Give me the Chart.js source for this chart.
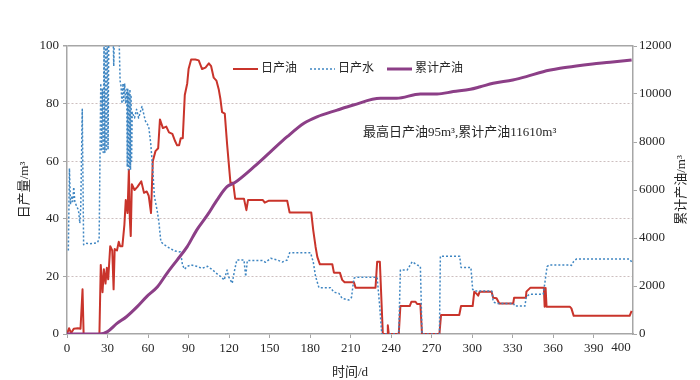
<!DOCTYPE html>
<html lang="zh">
<head>
    <meta charset="UTF-8">
    <title>日产量与累计产油</title>
    <style>
        html, body {
            margin: 0;
            padding: 0;
            background: #ffffff;
        }

        #wrap {
            width: 700px;
            height: 380px;
        }
    </style>
</head>
<body>
    <div id="wrap"><canvas id="prod-chart" width="700" height="380"></canvas></div>

    <script src="https://cdn.jsdelivr.net/npm/chart.js"></script>
    <script>
        // 日产油 (m3/d)
        const oilDay = [0, 1.5, 3, 5, 8, 10, 11.5, 12.3, 24, 25, 26.3, 27.3, 28.5, 29.5, 30.5, 32, 33.5, 34.5, 35.3, 37,
            38.3, 39.3, 41, 42.5, 43.5, 44.8, 45.8, 46.5, 47.2, 48, 50, 52, 55, 57, 59, 60.5, 62.2, 63.5, 65.5, 67.5,
            68.8, 71, 73.5, 75.5, 78, 80, 81.5, 83, 84.2, 85.7, 87.2, 89, 90, 91.9, 95, 97.5, 100, 102.5, 105, 106.7,
            108.6, 110.6, 112.3, 113.6, 114.8, 116.8, 118.5, 121, 123, 124.5, 131, 132.8, 134, 145, 146.4, 149.5, 163, 164.8, 180.8, 182.3,
            184, 185.3, 187.2, 196.4, 197.6, 202, 203.7, 205.5, 212.4, 213.6, 228.4, 229.6, 231.6, 233.8, 237, 237.5, 238.2, 245.6, 246.8, 253.7,
            255, 258, 259.2, 261.6, 262.8, 275.7, 276.9, 290.4, 291.7, 300.3, 301.5, 303, 304.4, 305.5, 314.3, 315.5, 318, 320, 330.3, 331,
            339.7, 340.1, 343.1, 353, 353.6, 354.3, 355, 372.2, 373.4, 375.1, 377, 416.5, 418];
        const oilRate = [0, 2, 0.3, 1.8, 2, 1.8, 15.5, 0, 0, 24, 14.5, 22.5, 17.5, 23, 19, 30.5, 29, 15.5, 29.5, 29,
            32, 30.5, 30.5, 38, 46.5, 42, 57, 40, 34, 52, 50, 51, 53, 49, 49.5, 48, 42, 60, 63.5, 64.5,
            74.5, 71.5, 72, 70, 69.5, 67, 65.5, 65.5, 68, 68, 83, 87, 92, 95.3, 95.3, 95, 92, 92.5, 94, 93,
            89, 88, 85, 81.5, 77, 76.5, 66, 52.5, 52.5, 47, 47, 43, 46.5, 46.5, 45.6, 46.3, 46.3, 42.2, 42.2, 36,
            30.3, 26.8, 24.2, 24.2, 21.3, 21.3, 18.8, 18, 18, 16.1, 16.1, 25.1, 25.1, 0, 0, 3, 0, 0, 9.7, 9.7,
            11.2, 11.2, 10.4, 10.4, 0, 0, 6.6, 6.6, 9.7, 9.7, 14.7, 14.1, 13.3, 14.7, 14.7, 12.6, 12.4, 10.6, 10.6, 12.6,
            12.6, 14.7, 16.1, 16.1, 9.5, 16, 9.5, 9.5, 8.9, 6.3, 6.3, 6.3, 8];

        // 日产水 (m3/d), values above 100 run off the top of the plot
        const waterDay = [1, 1.8, 2.6, 3.5, 4.3, 5, 5.8, 7, 8.5, 9.5, 10.2, 11.3, 12.3, 14, 17, 20, 22.5, 23.8, 25, 25.6,
            26.2, 26.8, 27.4, 28, 28.6, 29.2, 29.8, 30.4, 31, 32, 33, 34, 34.6, 35.2, 36.5, 37.5, 38.5, 39.3, 40, 40.7,
            41.5, 42, 42.7, 43.5, 44.2, 44.6, 45, 45.4, 45.8, 46.2, 46.6, 47, 47.4, 47.8, 48.3, 50, 51.5, 53, 55.5, 58,
            60.5, 62, 63.5, 64.7, 66.7, 68, 69.5, 72, 76, 80, 84, 85.5, 87, 89, 92, 96,
            100, 104, 108, 112, 114, 116.3, 118.5, 119.5, 122.3, 124, 125.7, 131, 132.3, 133.5, 144.6, 147, 150.8, 155.7, 159.4, 163,
            164.8, 180.3, 182.3, 184, 186.5, 195, 197.6, 201.3, 203.7, 208.7, 210.6, 212.4, 213.6, 229.6, 231.5, 233, 245.6, 246.8, 251.8, 255.5,
            259.2, 261.6, 262.8, 275.7, 276.4, 290.7, 291.7, 299, 300.3, 302, 314.5, 315.5, 318, 330.5, 331.5, 339, 340, 342.6, 352.5, 353.7,
            355.4, 357, 372.2, 373.4, 375, 377, 416.5, 418];
        const waterRate = [29, 57.5, 45, 48, 46, 51, 46, 44.5, 43, 38.5, 44, 78, 31, 31.5, 31.3, 31.5, 31.7, 33, 87, 64,
            85, 63, 102, 63, 105, 64, 108, 64, 110, 112, 110, 108, 93, 110, 112, 108, 104, 88, 86, 80,
            87, 81, 87, 80, 85, 58, 85, 57, 84, 58, 85, 57, 83, 60, 77, 75, 78, 75, 79, 74,
            72, 66, 57, 47.7, 43, 39, 32, 31, 29.8, 28.8, 28.5, 24, 22.5, 23.5, 24, 23.5,
            22.8, 23.5, 22.2, 20.5, 19.9, 18.7, 22.2, 20, 17.6, 22, 25.7, 25.7, 20, 25.5, 25.5, 24.9, 26.3, 25.7, 25, 25.7,
            28.2, 28.2, 25, 20, 16.1, 16.1, 14.5, 14.1, 12.4, 11.8, 12.7, 19.3, 19.7, 19.7, 9.5, 0, 0, 22.2, 22.2, 25.1,
            24, 23.4, 0, 0, 27, 27, 23.1, 23.1, 15.5, 14.9, 14.9, 11.2, 10.6, 10.6, 9.7, 9.7, 13, 13.8, 13.8, 17.6,
            23.4, 24, 24, 23.8, 25.1, 26, 26, 25];

        // 累计产油 (m3)
        const cumDay = [0, 24, 30, 37, 44, 52, 59, 67, 74, 81.5, 89, 96, 104, 111, 118.5, 124, 138.5, 150.8, 163, 175.4,
            185, 200, 212, 232, 244, 261.6, 274, 286, 298.6, 306, 315.5, 330, 340, 352.5, 365, 377, 389, 402, 418];
        const cumOil = [0, 0, 100, 440, 720, 1140, 1560, 1970, 2530, 3080, 3640, 4330, 4960, 5580, 6140, 6300, 6970, 7600, 8220, 8780,
            9050, 9330, 9540, 9820, 9820, 10000, 10000, 10100, 10195, 10300, 10445, 10584, 10723, 10930, 11070, 11170, 11250, 11320, 11420];

        const xTicks = [0, 30, 60, 90, 120, 150, 180, 210, 240, 270, 300, 330, 360, 390, 400];
        const lastXTick = 400;
        const noteText = '最高日产油95m³,累计产油11610m³';

        const axisGrey = '#a6a6a6';
        const gridGrey = '#cdbfbf';
        const textColor = '#262626';
        const tickFont = { family: '"Liberation Serif", "Noto Sans CJK SC", serif', size: 13 };
        const cjkFont = '"Liberation Serif", "Noto Sans CJK SC", sans-serif';

        function toPoints(xs, ys) {
            return xs.map((x, i) => ({ x: x, y: ys[i] }));
        }

        // legend, note, right axis title and the last x label drawn over the plot
        const overlay = {
            id: 'overlay',
            afterDraw(chart) {
                const ctx = chart.ctx;
                const area = chart.chartArea;
                ctx.save();

                // legend inside the plot
                ctx.font = '12px ' + cjkFont;
                ctx.textBaseline = 'middle';
                let lx = area.left + 166;
                const ly = area.top + 23;
                chart.data.datasets.forEach(ds => {
                    ctx.beginPath();
                    ctx.strokeStyle = ds.borderColor;
                    ctx.lineWidth = ds.borderWidth;
                    ctx.setLineDash(ds.borderDash || []);
                    ctx.moveTo(lx, ly);
                    ctx.lineTo(lx + 25, ly);
                    ctx.stroke();
                    ctx.setLineDash([]);
                    ctx.fillStyle = textColor;
                    ctx.textAlign = 'left';
                    ctx.fillText(ds.label, lx + 28, ly);
                    lx += 28 + ctx.measureText(ds.label).width + 13;
                });

                // note
                ctx.font = '13px ' + cjkFont;
                ctx.fillStyle = textColor;
                ctx.textAlign = 'left';
                ctx.fillText(noteText, area.left + 296, area.top + 87);

                // last x label sits to the right of its tick, clear of 390
                ctx.font = tickFont.size + 'px ' + tickFont.family;
                ctx.textBaseline = 'top';
                ctx.fillText(String(lastXTick), chart.scales.x.getPixelForValue(lastXTick) + 4, area.bottom + 7);

                // right axis title, reads bottom to top
                ctx.textBaseline = 'middle';
                ctx.font = '13px ' + cjkFont;
                ctx.translate(area.right + 49, (area.top + area.bottom) / 2);
                ctx.rotate(-Math.PI / 2);
                ctx.textAlign = 'center';
                ctx.fillText('累计产油/m³', 0, 0);
                ctx.restore();
            }
        };

        const chart = new Chart(document.getElementById('prod-chart').getContext('2d'), {
            type: 'line',
            data: {
                datasets: [
                    {
                        label: '日产油',
                        data: toPoints(oilDay, oilRate),
                        borderColor: '#c9342b',
                        borderWidth: 2,
                        yAxisID: 'y',
                        order: 3
                    },
                    {
                        label: '日产水',
                        data: toPoints(waterDay, waterRate),
                        borderColor: '#3f86c2',
                        borderWidth: 1.5,
                        borderDash: [2, 2],
                        yAxisID: 'y',
                        order: 2
                    },
                    {
                        label: '累计产油',
                        data: toPoints(cumDay, cumOil),
                        borderColor: '#8c3f87',
                        borderWidth: 3,
                        cubicInterpolationMode: 'monotone',
                        yAxisID: 'y2',
                        order: 1
                    }
                ]
            },
            options: {
                responsive: false,
                animation: false,
                devicePixelRatio: 1,
                layout: { padding: { top: 46, left: 0, right: 0, bottom: 0 } },
                elements: {
                    point: { radius: 0, hoverRadius: 0 },
                    line: { tension: 0, fill: false, borderJoinStyle: 'round' }
                },
                plugins: {
                    legend: { display: false },
                    tooltip: { enabled: false }
                },
                scales: {
                    x: {
                        type: 'linear',
                        min: 0,
                        max: 419,
                        afterBuildTicks: scale => {
                            scale.ticks = xTicks.map(v => ({ value: v }));
                        },
                        afterFit: scale => { scale.height = 46; },
                        ticks: {
                            autoSkip: false,
                            maxRotation: 0,
                            padding: 3,
                            color: textColor,
                            font: tickFont,
                            callback: v => (v === lastXTick ? '' : String(v))
                        },
                        grid: {
                            drawOnChartArea: false,
                            tickLength: 4,
                            tickColor: c => (c.tick && c.tick.value === lastXTick ? 'rgba(0,0,0,0)' : axisGrey)
                        },
                        border: { color: axisGrey, width: 1.5 },
                        title: {
                            display: true,
                            text: '时间/d',
                            color: textColor,
                            font: { family: cjkFont, size: 13 },
                            padding: { top: 0, bottom: 0 }
                        }
                    },
                    y: {
                        position: 'left',
                        min: 0,
                        max: 100,
                        afterFit: scale => { scale.width = 67; },
                        ticks: { stepSize: 20, padding: 4, color: textColor, font: tickFont, callback: v => String(v) },
                        grid: {
                            tickLength: 4,
                            tickColor: axisGrey,
                            color: c => (c.tick && c.tick.value === 100 ? axisGrey : (c.tick && c.tick.value === 0 ? 'rgba(0,0,0,0)' : gridGrey)),
                            lineWidth: c => (c.tick && c.tick.value === 100 ? 1.5 : 1)
                        },
                        border: {
                            color: axisGrey,
                            width: 1.5,
                            dash: c => (c.tick && c.tick.value === 100 ? [] : [2, 2])
                        },
                        title: {
                            display: true,
                            text: '日产量/m³',
                            color: textColor,
                            font: { family: cjkFont, size: 13 },
                            padding: { top: 17, bottom: 0 }
                        }
                    },
                    y2: {
                        position: 'right',
                        min: 0,
                        max: 12000,
                        afterFit: scale => { scale.width = 67; },
                        ticks: { stepSize: 2000, padding: 2, color: textColor, font: tickFont, callback: v => String(v) },
                        grid: { drawOnChartArea: false, tickLength: 4, tickColor: axisGrey },
                        border: { color: axisGrey, width: 1.5 }
                    }
                }
            },
            plugins: [overlay]
        });
    </script>
</body>
</html>
